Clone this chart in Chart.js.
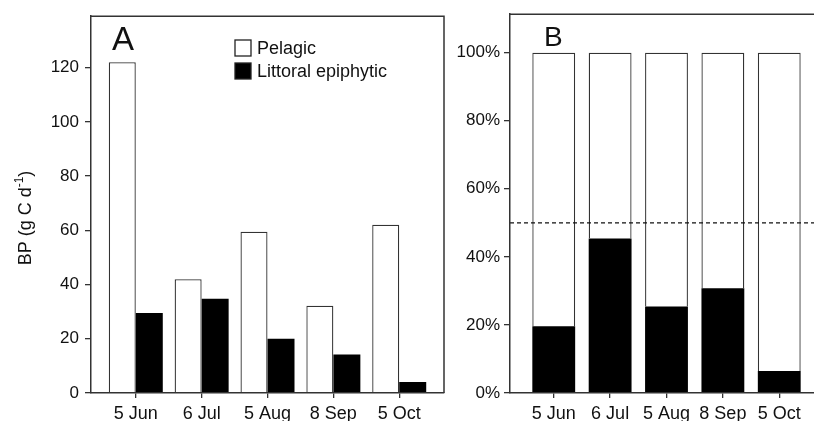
<!DOCTYPE html>
<html>
<head>
<meta charset="utf-8">
<script src="https://cdn.jsdelivr.net/npm/chart.js@4"></script>
<style>
  body { margin: 0; background: #fff; overflow: hidden; width: 814px; height: 421px; position: relative; }
  #wa { position: absolute; left: 0; top: 0; width: 460px; height: 421px; }
  #wb { position: absolute; left: 430px; top: 0; width: 410px; height: 421px; }
</style>
</head>
<body>
<div id="wa"><canvas id="chartA" width="460" height="421"></canvas></div>
<div id="wb"><canvas id="chartB" width="410" height="421"></canvas></div>
<script>
// values
const dates = ['5 Jun', '6 Jul', '5 Aug', '8 Sep', '5 Oct'];
const pelagicBP = [122, 42, 59.5, 32.2, 62.1];
const littoralBP = [29.5, 34.8, 20, 14.2, 4.1];
const littoralPct = [19.6, 45.4, 25.4, 30.8, 6.5];
const pelagicPct = [80.4, 54.6, 74.6, 69.2, 93.5];
const bpTicks = [0, 20, 40, 60, 80, 100, 120];
const pctTicks = [0, 20, 40, 60, 80, 100];
const halfLine = 50;

const FONT = '"Liberation Sans", Arial, sans-serif';
Chart.defaults.font.family = FONT;
Chart.defaults.color = '#111';

const lineCol = '#333';

// top + right border of the plot box, panel letter, optional legend / dashed line / y title
const framePlugin = {
  id: 'frame',
  afterDatasetsDraw(chart, args, opts) {
    const ctx = chart.ctx, a = chart.chartArea;
    ctx.save();
    if (opts.dashAt != null) {
      const y = chart.scales.y.getPixelForValue(opts.dashAt);
      ctx.strokeStyle = '#111';
      ctx.lineWidth = 1.3;
      ctx.setLineDash([4, 3]);
      ctx.beginPath();
      ctx.moveTo(a.left, y);
      ctx.lineTo(a.right, y);
      ctx.stroke();
      ctx.setLineDash([]);
    }
    ctx.strokeStyle = lineCol;
    ctx.lineWidth = 1.5;
    ctx.beginPath();
    ctx.moveTo(a.left, a.top);
    ctx.lineTo(a.right, a.top);
    ctx.lineTo(a.right, a.bottom);
    ctx.stroke();

    ctx.fillStyle = '#111';
    ctx.font = opts.letterSize + 'px ' + FONT;
    ctx.textBaseline = 'alphabetic';
    ctx.fillText(opts.letter, opts.lx, opts.ly);

    if (opts.legend) {
      ctx.font = '18px ' + FONT;
      ctx.textBaseline = 'middle';
      chart.data.datasets.forEach((ds, i) => {
        const y = 48 + i * 23;
        ctx.fillStyle = ds.backgroundColor;
        ctx.fillRect(235, y - 8, 16, 16);
        ctx.strokeStyle = '#222';
        ctx.lineWidth = 1.3;
        ctx.strokeRect(235, y - 8, 16, 16);
        ctx.fillStyle = '#111';
        ctx.fillText(ds.label, 257, y + 1);
      });
    }

    if (opts.yTitle) {
      // "BP (g C d-1)" with a raised small -1
      const t = opts.yTitle;
      ctx.translate(31, 218);
      ctx.rotate(-Math.PI / 2);
      ctx.textBaseline = 'alphabetic';
      ctx.font = '18px ' + FONT;
      const w1 = ctx.measureText(t[0]).width;
      const w3 = ctx.measureText(t[2]).width;
      ctx.font = '12px ' + FONT;
      const w2 = ctx.measureText(t[1]).width;
      let x = -(w1 + w2 + w3) / 2;
      ctx.font = '18px ' + FONT;
      ctx.fillText(t[0], x, 0);
      x += w1;
      ctx.font = '12px ' + FONT;
      ctx.fillText(t[1], x, -8);
      x += w2;
      ctx.font = '18px ' + FONT;
      ctx.fillText(t[2], x, 0);
    }
    ctx.restore();
  }
};

function xScale(min, max) {
  return {
    type: 'linear',
    min: min,
    max: max,
    offset: false,
    afterFit: s => { s.height = 28; },
    afterBuildTicks: s => { s.ticks = dates.map((d, i) => ({ value: i })); },
    ticks: { callback: v => dates[v], font: { size: 18 }, padding: 5, maxRotation: 0, autoSkip: false },
    grid: { offset: false, drawOnChartArea: false, tickLength: 5, tickColor: lineCol, lineWidth: 1.3 },
    border: { color: lineCol, width: 1.5, z: 1 }
  };
}

new Chart(document.getElementById('chartA'), {
  type: 'bar',
  data: {
    datasets: [
      {
        label: 'Pelagic',
        data: dates.map((d, i) => ({ x: i, y: pelagicBP[i] })),
        backgroundColor: '#fff',
        borderColor: lineCol,
        borderWidth: 1.3,
        categoryPercentage: 0.82,
        barPercentage: 1
      },
      {
        label: 'Littoral epiphytic',
        data: dates.map((d, i) => ({ x: i, y: littoralBP[i] })),
        backgroundColor: '#000',
        borderWidth: 0,
        categoryPercentage: 0.82,
        barPercentage: 1
      }
    ]
  },
  options: {
    responsive: false,
    animation: false,
    layout: { padding: { left: 0, top: 13, right: 16, bottom: 0 } },
    scales: {
      x: xScale(-0.68, 4.68),
      y: {
        min: 0,
        max: 139,
        afterFit: s => { s.width = 91; },
        afterBuildTicks: s => { s.ticks = bpTicks.map(v => ({ value: v })); },
        ticks: { font: { size: 17 }, padding: 6 },
        grid: { drawOnChartArea: false, tickLength: 6, tickColor: lineCol, lineWidth: 1.3 },
        border: { color: lineCol, width: 1.5, z: 1 }
      }
    },
    plugins: {
      legend: { display: false },
      tooltip: { enabled: false },
      frame: { letter: 'A', letterSize: 33, lx: 112, ly: 50, legend: true, yTitle: ['BP (g C d', '-1', ')'] }
    }
  },
  plugins: [framePlugin]
});

new Chart(document.getElementById('chartB'), {
  type: 'bar',
  data: {
    datasets: [
      {
        label: 'Littoral epiphytic',
        data: dates.map((d, i) => ({ x: i, y: littoralPct[i] })),
        backgroundColor: '#000',
        borderWidth: 0,
        categoryPercentage: 0.76,
        barPercentage: 1
      },
      {
        label: 'Pelagic',
        data: dates.map((d, i) => ({ x: i, y: pelagicPct[i] })),
        backgroundColor: '#fff',
        borderColor: lineCol,
        borderWidth: 1.3,
        categoryPercentage: 0.76,
        barPercentage: 1
      }
    ]
  },
  options: {
    responsive: false,
    animation: false,
    layout: { padding: { left: 0, top: 13, right: 17, bottom: 0 } },
    scales: {
      x: Object.assign(xScale(-0.776, 4.776), { stacked: true }),
      y: {
        stacked: true,
        min: 0,
        max: 111.3,
        afterFit: s => { s.width = 80; },
        afterBuildTicks: s => { s.ticks = pctTicks.map(v => ({ value: v })); },
        ticks: { font: { size: 17 }, padding: 4, callback: v => v + '%' },
        grid: { drawOnChartArea: false, tickLength: 6, tickColor: lineCol, lineWidth: 1.3 },
        border: { color: lineCol, width: 1.5, z: 1 }
      }
    },
    plugins: {
      legend: { display: false },
      tooltip: { enabled: false },
      frame: { letter: 'B', letterSize: 28, lx: 114, ly: 46, dashAt: halfLine }
    }
  },
  plugins: [framePlugin]
});
</script>
</body>
</html>
